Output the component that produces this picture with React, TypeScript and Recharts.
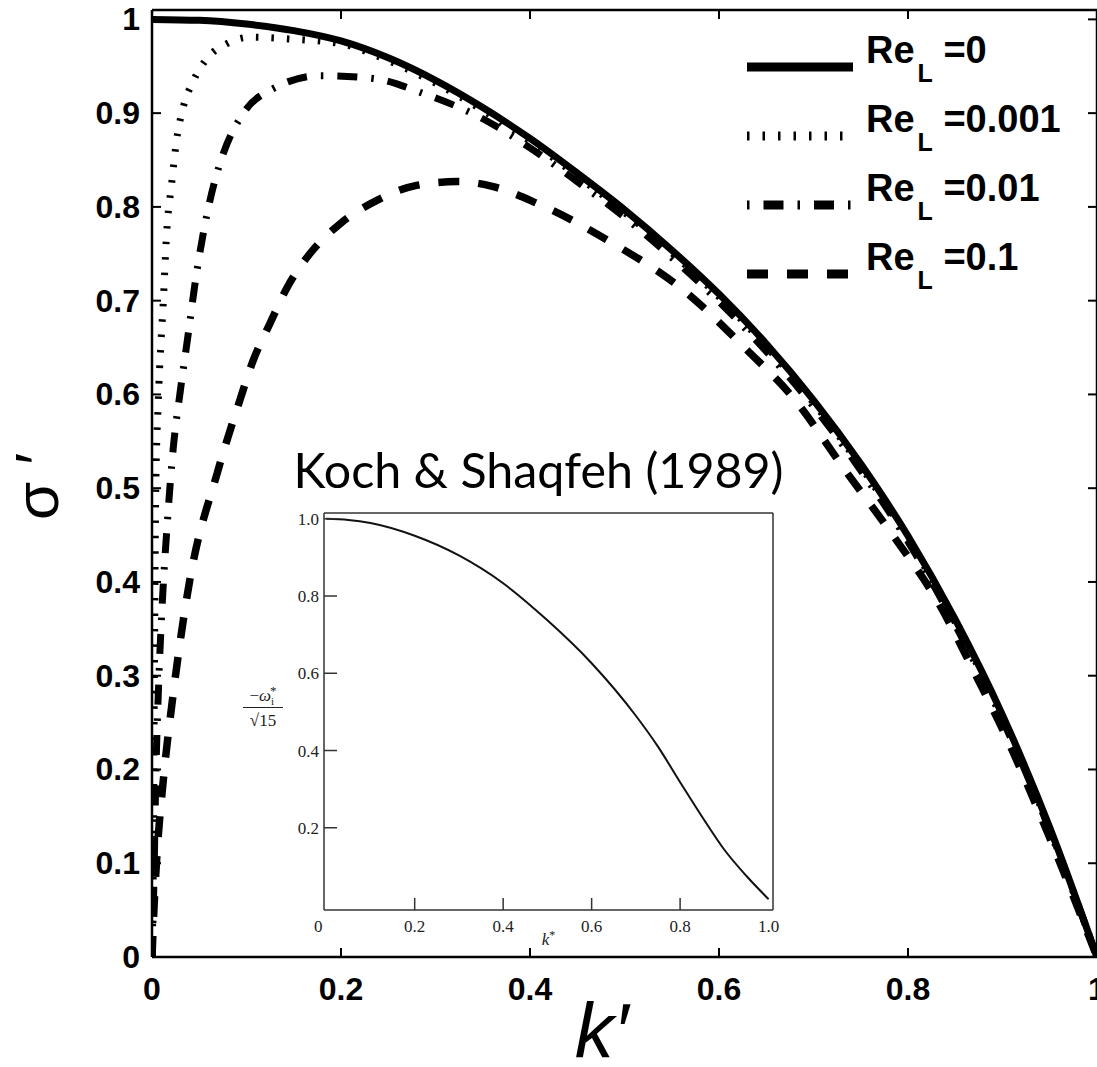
import React from "react";
import { LineChart, Line, XAxis, YAxis, Legend } from "recharts";

const SANS = "'Liberation Sans', Arial, Helvetica, sans-serif";
const SERIF = "'Liberation Serif', 'Times New Roman', serif";

// main axes
const kTicks = [0, 0.2, 0.4, 0.6, 0.8, 1];
const sigmaTicks = [0, 0.1, 0.2, 0.3, 0.4, 0.5, 0.6, 0.7, 0.8, 0.9, 1];

// Re_L = 0
const re0K = [0, 0.05, 0.1, 0.15, 0.2, 0.25, 0.3, 0.35, 0.4, 0.45, 0.5, 0.55, 0.6, 0.65, 0.7, 0.75, 0.8, 0.85, 0.9, 0.95, 1];
const re0Sigma = [1, 0.999, 0.995, 0.988, 0.977, 0.959, 0.935, 0.906, 0.873, 0.836, 0.797, 0.754, 0.707, 0.654, 0.594, 0.526, 0.449, 0.36, 0.258, 0.138, 0];

// Re_L = 0.001
const re0001K = [0, 0.0015, 0.0025, 0.004, 0.0067, 0.012, 0.0155, 0.0208, 0.026, 0.033, 0.044, 0.058, 0.079, 0.104, 0.146, 0.2, 0.25, 0.3, 0.35, 0.4, 0.45, 0.5, 0.55, 0.6, 0.65, 0.7, 0.75, 0.8, 0.85, 0.9, 0.95, 1];
const re0001Sigma = [0, 0.12, 0.3, 0.5, 0.594, 0.7, 0.772, 0.825, 0.871, 0.906, 0.935, 0.958, 0.974, 0.981, 0.979, 0.974, 0.956, 0.932, 0.903, 0.87, 0.833, 0.794, 0.751, 0.704, 0.651, 0.591, 0.523, 0.446, 0.357, 0.255, 0.136, 0];

// Re_L = 0.01
const re001K = [0, 0.002, 0.004, 0.007, 0.011, 0.016, 0.0226, 0.0296, 0.0384, 0.0455, 0.0543, 0.063, 0.0755, 0.0967, 0.128, 0.178, 0.234, 0.287, 0.35, 0.4, 0.45, 0.5, 0.55, 0.6, 0.65, 0.7, 0.75, 0.8, 0.85, 0.9, 0.95, 1];
const re001Sigma = [0, 0.08, 0.19, 0.29, 0.38, 0.46, 0.544, 0.601, 0.665, 0.718, 0.772, 0.814, 0.857, 0.9, 0.926, 0.94, 0.937, 0.921, 0.894, 0.863, 0.827, 0.789, 0.746, 0.699, 0.646, 0.587, 0.519, 0.443, 0.354, 0.253, 0.135, 0];

// Re_L = 0.1
const re01K = [0, 0.002, 0.005, 0.012, 0.022, 0.04, 0.069, 0.093, 0.107, 0.125, 0.143, 0.167, 0.199, 0.238, 0.28, 0.323, 0.36, 0.407, 0.488, 0.559, 0.63, 0.678, 0.735, 0.786, 0.832, 0.873, 0.9, 0.95, 1];
const re01Sigma = [0, 0.05, 0.105, 0.189, 0.277, 0.402, 0.516, 0.594, 0.636, 0.676, 0.714, 0.75, 0.782, 0.807, 0.823, 0.827, 0.822, 0.804, 0.761, 0.714, 0.647, 0.597, 0.517, 0.447, 0.378, 0.298, 0.243, 0.127, 0];

// inset: Koch & Shaqfeh (1989)
const insetK = [0, 0.05, 0.1, 0.2, 0.3, 0.4, 0.5, 0.6, 0.7, 0.75, 0.8, 0.85, 0.9, 0.95, 1.0];
const insetOmega = [1.0, 0.997, 0.989, 0.956, 0.905, 0.833, 0.737, 0.626, 0.49, 0.41, 0.318, 0.228, 0.143, 0.075, 0.015];
const insetKTicks = [0, 0.2, 0.4, 0.6, 0.8, 1.0];
const insetYTicks = [0.2, 0.4, 0.6, 0.8, 1.0];

const toRows = (k: number[], s: number[]) => k.map((v, i) => ({ k: v, s: s[i] }));

const series = [
  { label: "0", rows: toRows(re0K, re0Sigma), dash: undefined as string | undefined, width: 7, legendOffset: 0 },
  { label: "0.001", rows: toRows(re0001K, re0001Sigma), dash: "2.5 13", width: 7, legendOffset: 0 },
  { label: "0.01", rows: toRows(re001K, re001Sigma), dash: "20 14 2.5 14", width: 7, legendOffset: 34 },
  { label: "0.1", rows: toRows(re01K, re01Sigma), dash: "21 19", width: 7.5, legendOffset: 0 },
];

const insetRows = insetK.map((v, i) => ({ k: v, w: insetOmega[i] }));

const fmt = (v: number) => (v === 0 ? "0" : v === 1 ? "1" : v.toFixed(1));

const LeftTick = (props: any) => {
  const { x, y, payload } = props;
  return (
    <g>
      <line x1={x} x2={x + 9} y1={y} y2={y} stroke="#000" strokeWidth={2} />
      <text x={x - 12} y={y} dy={11} textAnchor="end" fontSize={32} fontWeight="bold" fontFamily={SANS} fill="#000">
        {fmt(payload.value)}
      </text>
    </g>
  );
};

const RightTick = (props: any) => {
  const { x, y } = props;
  return <line x1={x - 9} x2={x} y1={y} y2={y} stroke="#000" strokeWidth={2} />;
};

const BottomTick = (props: any) => {
  const { x, y, payload } = props;
  return (
    <g>
      <line x1={x} x2={x} y1={y} y2={y - 9} stroke="#000" strokeWidth={2} />
      <text x={x} y={y + 43} textAnchor="middle" fontSize={32} fontWeight="bold" fontFamily={SANS} fill="#000">
        {fmt(payload.value)}
      </text>
    </g>
  );
};

const TopTick = (props: any) => {
  const { x, y } = props;
  return <line x1={x} x2={x} y1={y} y2={y + 9} stroke="#000" strokeWidth={2} />;
};

const YLabel = ({ viewBox }: any) => {
  const cx = viewBox.x + 58;
  const cy = viewBox.y + viewBox.height / 2 + 3;
  return (
    <text x={cx} y={cy} transform={`rotate(-90 ${cx} ${cy})`} textAnchor="middle" fontSize={62} fontFamily={SANS} fill="#000">
      σ ′
    </text>
  );
};

const XLabel = ({ viewBox }: any) => (
  <text x={viewBox.x + viewBox.width / 2 - 23} y={viewBox.y + 101} textAnchor="middle" fontSize={78} fontStyle="italic" fontFamily={SANS} fill="#000">
    k′
  </text>
);

const LegendBox = () => (
  <svg width={350} height={290}>
    {series.map((s, i) => {
      const ly = 47 + i * 69;
      return (
        <g key={s.label}>
          <line x1={7} x2={113} y1={ly} y2={ly} stroke="#000" strokeWidth={9} strokeDasharray={s.dash} strokeDashoffset={s.legendOffset} />
          <text x={126} y={ly - 4} fontSize={38} fontWeight="bold" fontFamily={SANS} fill="#000">
            Re
            <tspan dx={3} dy={19} fontSize={25}>L</tspan>
            <tspan dy={-19}> ={s.label}</tspan>
          </text>
        </g>
      );
    })}
  </svg>
);

const InsetLeftTick = (props: any) => {
  const { x, y, payload } = props;
  return (
    <g>
      <line x1={x} x2={x + 13} y1={y} y2={y} stroke="#333" strokeWidth={1.5} />
      <text x={x - 5} y={y} dy={6} textAnchor="end" fontSize={17} fontFamily={SERIF} fill="#222">
        {payload.value.toFixed(1)}
      </text>
    </g>
  );
};

const InsetBottomTick = (props: any) => {
  const { x, y, payload } = props;
  const v = payload.value;
  return (
    <g>
      {v > 0 && v < 1 && <line x1={x} x2={x} y1={y} y2={y - 12} stroke="#333" strokeWidth={1.5} />}
      <text x={v === 0 ? x - 8 : x} y={y + 22} textAnchor="middle" fontSize={17} fontFamily={SERIF} fill="#222">
        {v === 0 ? "0" : v.toFixed(1)}
      </text>
    </g>
  );
};

const InsetTitle = ({ viewBox }: any) => (
  <text x={viewBox.x + viewBox.width / 2 - 10} y={viewBox.y - 23} textAnchor="middle" fontSize={48} fontFamily="Lato, 'Open Sans', sans-serif" fill="#000" textLength={490} lengthAdjust="spacingAndGlyphs">
    Koch &amp; Shaqfeh (1989)
  </text>
);

const InsetXLabel = ({ viewBox }: any) => (
  <text x={viewBox.x + viewBox.width / 2} y={viewBox.y + 35} textAnchor="middle" fontSize={17} fontFamily={SERIF} fill="#222">
    <tspan fontStyle="italic">k</tspan>
    <tspan fontSize={12} dy={-6}>*</tspan>
  </text>
);

const InsetYLabel = ({ viewBox }: any) => {
  const cx = viewBox.x + 33;
  const cy = viewBox.y + viewBox.height / 2 - 5;
  return (
    <g fontFamily={SERIF} fill="#222">
      <text x={cx} y={cy - 6} textAnchor="middle" fontSize={17}>
        <tspan>−</tspan>
        <tspan fontStyle="italic">ω</tspan>
        <tspan fontSize={11} dy={4}>i</tspan>
        <tspan fontSize={13} dx={-4} dy={-10}>*</tspan>
      </text>
      <line x1={cx - 20} x2={cx + 20} y1={cy + 1} y2={cy + 1} stroke="#222" strokeWidth={1} />
      <text x={cx} y={cy + 19} textAnchor="middle" fontSize={17}>
        √15
      </text>
    </g>
  );
};

export default function App() {
  const axisLine = { stroke: "#000", strokeWidth: 2.5 };
  const insetAxis = { stroke: "#333", strokeWidth: 1.5 };
  return (
    <div style={{ position: "absolute", left: 0, top: 0, width: 1097, height: 1067, overflow: "hidden", background: "#fff" }}>
      <LineChart width={1130} height={1067} margin={{ top: 0, right: 0, left: 0, bottom: 0 }}>
        <XAxis type="number" dataKey="k" domain={[0, 1]} ticks={kTicks} interval={0} allowDataOverflow height={110} tickSize={0} tickMargin={0} tickLine={false} tick={<BottomTick />} axisLine={axisLine} label={<XLabel />} />
        <XAxis xAxisId="top" orientation="top" type="number" dataKey="k" domain={[0, 1]} ticks={kTicks} interval={0} allowDataOverflow height={10} tickSize={0} tickMargin={0} tickLine={false} tick={<TopTick />} axisLine={axisLine} />
        <YAxis type="number" domain={[0, 1.01]} ticks={sigmaTicks} interval={0} allowDataOverflow width={152} tickSize={0} tickMargin={0} tickLine={false} tick={<LeftTick />} axisLine={axisLine} label={<YLabel />} />
        <YAxis yAxisId="right" orientation="right" type="number" domain={[0, 1.01]} ticks={sigmaTicks} interval={0} allowDataOverflow width={33} tickSize={0} tickMargin={0} tickLine={false} tick={<RightTick />} axisLine={axisLine} />
        {series.map((s) => (
          <Line key={s.label} data={s.rows} dataKey="s" type="monotone" stroke="#000" strokeWidth={s.width} strokeDasharray={s.dash} strokeLinecap="butt" dot={false} activeDot={false} isAnimationActive={false} />
        ))}
        <Legend layout="horizontal" verticalAlign="middle" align="center" content={<LegendBox />} wrapperStyle={{ position: "absolute", left: 740, top: 20, width: 350, height: 290 }} />
      </LineChart>

      <div style={{ position: "absolute", left: 230, top: 440 }}>
        <LineChart width={555} height={510} margin={{ top: 71, right: 10, left: 0, bottom: 0 }}>
          <XAxis type="number" dataKey="k" domain={[-0.005, 1.01]} ticks={insetKTicks} interval={0} allowDataOverflow height={40} tickSize={0} tickMargin={0} tickLine={false} tick={<InsetBottomTick />} axisLine={insetAxis} label={<InsetXLabel />} />
          <XAxis xAxisId="top" orientation="top" type="number" dataKey="k" domain={[-0.005, 1.01]} allowDataOverflow height={2} tick={false} tickLine={false} axisLine={insetAxis} label={<InsetTitle />} />
          <YAxis type="number" domain={[-0.013, 1.015]} ticks={insetYTicks} interval={0} allowDataOverflow width={94} tickSize={0} tickMargin={0} tickLine={false} tick={<InsetLeftTick />} axisLine={insetAxis} label={<InsetYLabel />} />
          <YAxis yAxisId="right" orientation="right" type="number" domain={[-0.013, 1.015]} allowDataOverflow width={2} tick={false} tickLine={false} axisLine={insetAxis} />
          <Line data={insetRows} dataKey="w" type="monotone" stroke="#111" strokeWidth={2} dot={false} activeDot={false} isAnimationActive={false} />
        </LineChart>
      </div>
    </div>
  );
}
